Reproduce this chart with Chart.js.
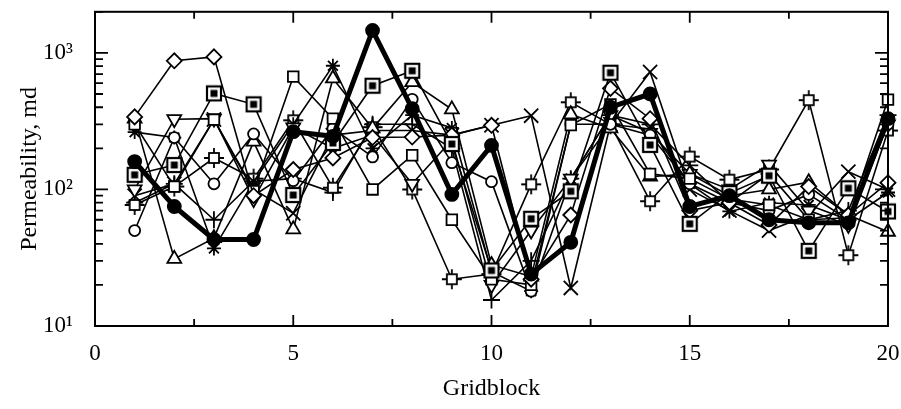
<!DOCTYPE html>
<html>
<head>
<meta charset="utf-8">
<script src="https://cdn.jsdelivr.net/npm/chart.js@4.4.1/dist/chart.umd.min.js"></script>
<style>
    html, body { margin: 0; padding: 0; background: #fff; }
</style>
</head>
<body>
<canvas id="chart" width="901" height="409"></canvas>
<script>
// values (md), one list per marker style
const gridblocks = [1, 2, 3, 4, 5, 6, 7, 8, 9, 10, 11, 12, 13, 14, 15, 16, 17, 18, 19, 20];
const bold       = [160, 75, 43, 43, 265, 245, 1460, 390, 92, 210, 24, 41, 400, 500, 75, 90, 60, 57, 57, 330];
const filledSq   = [128, 151, 505, 420, 91, 219, 575, 740, 215, 25.5, 61, 97, 716, 212, 56, 94, 126, 35.5, 102, 69];
const diamond    = [340, 875, 935, 90, 140, 170, 240, 242, 250, 295, 22, 65, 550, 330, 70, 80, 55, 105, 65, 112];
const square     = [300, 105, 325, 97, 670, 330, 100, 178, 60, 22, 20, 296, 420, 130, 120, 85, 77, 60, 62, 455];
const circle     = [50, 240, 110, 255, 116, 280, 173, 457, 157, 114, 18, 300, 300, 250, 110, 80, 70, 92, 60, 300];
const triUp      = [330, 31, 44, 224, 51, 650, 280, 610, 386, 28, 23, 355, 280, 124, 130, 90, 100, 113, 65, 49];
const triDown    = [100, 327, 330, 85, 285, 200, 250, 110, 230, 20, 50, 120, 350, 260, 130, 100, 152, 70, 55, 300];
const asterisk   = [263, 240, 37, 114, 300, 805, 200, 350, 282, 25, 18, 120, 300, 277, 110, 69, 80, 77, 60, 95];
const cross      = [90, 110, 325, 100, 67, 250, 270, 270, 250, 295, 347, 19, 300, 725, 100, 70, 50, 65, 135, 100];
const plusSquare = [77, 105, 170, 120, 321, 103, 286, 100, 22, 24, 109, 435, 300, 82, 174, 118, 140, 451, 33, 270];
const plus       = [80, 110, 60, 115, 120, 95, 300, 300, 200, 15.5, 30, 120, 350, 300, 150, 80, 130, 60, 70, 350];

const yLabels = { 10: '10¹', 100: '10²', 1000: '10³' };
const font = "'Liberation Serif', serif";

// square with a black centre
function makeFilledSquare() {
    const c = document.createElement('canvas');
    c.width = 18; c.height = 18;
    const g = c.getContext('2d');
    g.fillStyle = '#fff';
    g.fillRect(1, 1, 16, 16);
    g.strokeStyle = '#000';
    g.lineWidth = 2.2;
    g.strokeRect(2, 2, 14, 14);
    g.fillStyle = '#000';
    g.fillRect(5.5, 5.5, 7, 7);
    return c;
}

// small square with tick marks sticking out of each side
function makePlusSquare() {
    const c = document.createElement('canvas');
    c.width = 24; c.height = 24;
    const g = c.getContext('2d');
    g.strokeStyle = '#000';
    g.lineWidth = 1.8;
    g.beginPath();
    g.moveTo(2, 12); g.lineTo(22, 12);
    g.moveTo(12, 2); g.lineTo(12, 22);
    g.stroke();
    g.fillStyle = '#fff';
    g.fillRect(7, 7, 10, 10);
    g.strokeRect(7, 7, 10, 10);
    return c;
}

function toPoints(values) {
    return values.map((v, i) => ({ x: gridblocks[i], y: v }));
}

function series(values, style, radius, opts = {}) {
    return Object.assign({
        data: toPoints(values),
        borderColor: '#000',
        borderWidth: 1.6,
        pointStyle: style,
        pointRadius: radius,
        pointHoverRadius: radius,
        pointBackgroundColor: '#fff',
        pointBorderColor: '#000',
        pointBorderWidth: 1.8,
        tension: 0,
        clip: false,
        order: 5
    }, opts);
}

const frameTicks = {
    id: 'frameTicks',
    afterDraw(chart) {
        const { ctx, chartArea: a, scales: { x, y } } = chart;
        ctx.save();
        ctx.strokeStyle = '#000';
        ctx.lineWidth = 1.8;
        ctx.beginPath();
        for (let v = 0; v <= 20; v += 2.5) {
            const px = x.getPixelForValue(v);
            const len = v % 5 === 0 ? 11 : 7;
            ctx.moveTo(px, a.bottom); ctx.lineTo(px, a.bottom - len);
            ctx.moveTo(px, a.top); ctx.lineTo(px, a.top + len);
        }
        for (let e = 1; e <= 3; e++) {
            for (let m = 1; m <= 9; m++) {
                const v = m * Math.pow(10, e);
                if (v > 2000) break;
                const py = y.getPixelForValue(v);
                const len = m === 1 ? 13 : 8;
                ctx.moveTo(a.left, py); ctx.lineTo(a.left + len, py);
                ctx.moveTo(a.right, py); ctx.lineTo(a.right - len, py);
            }
        }
        ctx.stroke();
        ctx.lineWidth = 2;
        ctx.strokeRect(a.left, a.top, a.right - a.left, a.bottom - a.top);
        ctx.restore();
    }
};

const ctx = document.getElementById('chart').getContext('2d');

const chart = new Chart(ctx, {
    type: 'line',
    data: {
        datasets: [
            series(bold, 'circle', 6.5, { borderWidth: 5, pointBackgroundColor: '#000', order: 0 }),
            series(filledSq, makeFilledSquare(), 9, { order: 1 }),
            series(diamond, 'rectRot', 7.5),
            series(square, 'rect', 7.5),
            series(circle, 'circle', 5.5),
            series(triUp, 'triangle', 8),
            series(triDown, 'triangle', 8, { pointRotation: 180 }),
            series(asterisk, 'star', 7),
            series(cross, 'crossRot', 10),
            series(plusSquare, makePlusSquare(), 10),
            series(plus, 'cross', 8.5)
        ]
    },
    options: {
        responsive: false,
        animation: false,
        devicePixelRatio: 1,
        layout: { padding: { top: 8, right: 13, left: 0, bottom: 0 } },
        plugins: { legend: { display: false }, tooltip: { enabled: false } },
        scales: {
            x: {
                type: 'linear',
                min: 0,
                max: 20,
                grid: { display: false },
                border: { display: false },
                ticks: { stepSize: 5, color: '#000', padding: 6, font: { family: font, size: 23 } },
                title: { display: true, text: 'Gridblock', color: '#000', padding: { top: 0, bottom: 6 }, font: { family: font, size: 24 } },
                afterFit(s) {
                    s.height = 83;
                    s.paddingLeft = 0;
                    s.paddingRight = 0;
                }
            },
            y: {
                type: 'logarithmic',
                min: 10,
                max: 2000,
                grid: { display: false },
                border: { display: false },
                ticks: {
                    autoSkip: false,
                    color: '#000',
                    padding: 14,
                    font: { family: font, size: 23 },
                    callback: (v) => yLabels[v] || ''
                },
                title: { display: true, text: 'Permeability, md', color: '#000', padding: { top: 15, bottom: 0 }, font: { family: font, size: 24 } },
                afterFit(s) {
                    s.width = 95;
                    s.paddingTop = 0;
                    s.paddingBottom = 0;
                }
            }
        }
    },
    plugins: [frameTicks]
});
</script>
</body>
</html>
